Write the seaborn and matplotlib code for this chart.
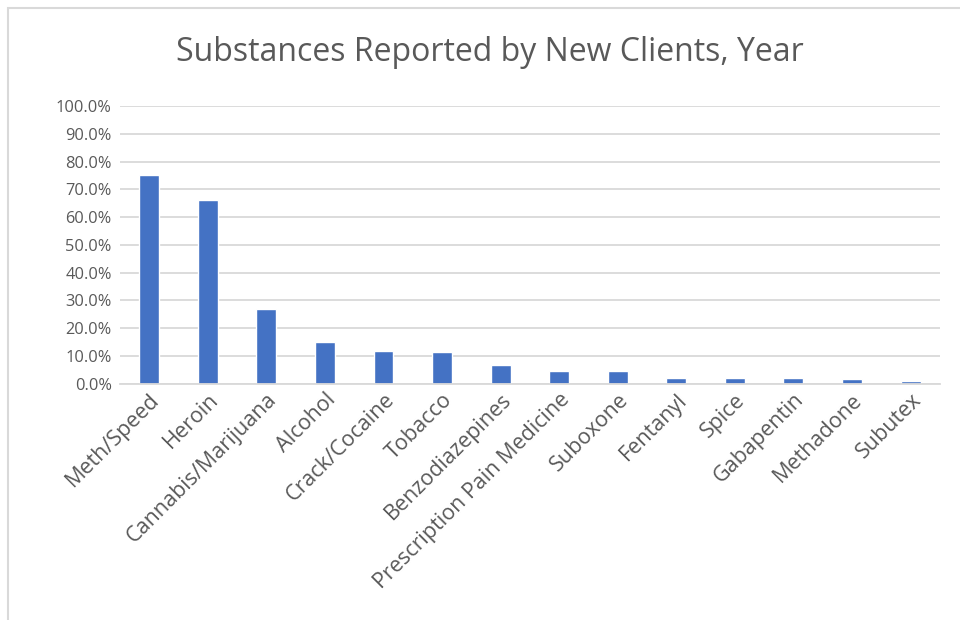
import pandas as pd
import matplotlib.pyplot as plt
import matplotlib.patches as patches
from matplotlib.ticker import PercentFormatter
import seaborn as sns

# dados
substancias = ['Meth/Speed', 'Heroin', 'Cannabis/Marijuana', 'Alcohol', 'Crack/Cocaine',
               'Tobacco', 'Benzodiazepines', 'Prescription Pain Medicine', 'Suboxone',
               'Fentanyl', 'Spice', 'Gabapentin', 'Methadone', 'Subutex']
percentuais = [0.752, 0.661, 0.270, 0.151, 0.118, 0.114, 0.068, 0.046, 0.046,
               0.022, 0.022, 0.022, 0.017, 0.009]

df = pd.DataFrame({'substancia': substancias, 'pct': percentuais})

sns.set_style('white')
plt.rcParams['font.family'] = ['Open Sans', 'DejaVu Sans']

cinza_texto = '#595959'
fig = plt.figure(figsize=(9.6, 6.2), dpi=100)
ax = fig.add_axes([0.125, 0.381, 0.854, 0.448])

sns.barplot(data=df, x='substancia', y='pct', color='#4472C4', width=0.34,
            saturation=1, ax=ax)

ax.set_ylim(0, 1.0)
ax.set_yticks([i / 10 for i in range(11)])
ax.yaxis.set_major_formatter(PercentFormatter(1.0, decimals=1))
ax.grid(axis='y', color='#d9d9d9', linewidth=1.3)
ax.set_axisbelow(True)
for lado in ['top', 'right', 'left']:
    ax.spines[lado].set_visible(False)
ax.spines['bottom'].set_color('#d9d9d9')
ax.spines['bottom'].set_linewidth(1.3)
ax.set_xlabel('')
ax.set_ylabel('')
ax.tick_params(axis='y', length=0, labelsize=11.8, colors=cinza_texto, pad=6)
ax.tick_params(axis='x', length=0, labelsize=15.5, colors=cinza_texto, pad=4)
plt.setp(ax.get_xticklabels(), rotation=45, ha='right', rotation_mode='anchor')

fig.text(0.51, 0.915, 'Substances Reported by New Clients, Year', ha='center', va='center',
         fontsize=23, color=cinza_texto)

# borda da área do gráfico (estilo Excel)
fig.patches.append(patches.Rectangle((8 / 960, -0.1), 1.2, 1 - 8 / 620 + 0.1,
                                     transform=fig.transFigure, fill=False,
                                     edgecolor='#d9d9d9', linewidth=1.5))

fig.savefig('out.png', dpi=100)
